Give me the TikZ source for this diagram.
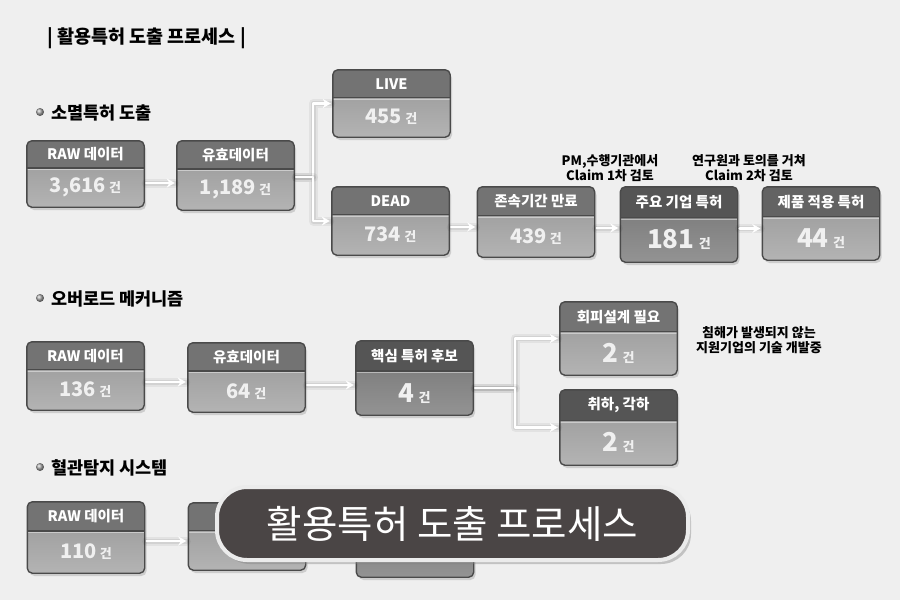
\documentclass[tikz,border=0pt]{standalone}
\usepackage{fontspec}
\setmainfont{Noto Sans CJK KR}
\usetikzlibrary{calc,shadows,arrows.meta}
\definecolor{bgc}{HTML}{EFEFEF}
\definecolor{edge}{HTML}{4A4A4A}
\definecolor{hdr}{HTML}{737373}
\definecolor{hdrmid}{HTML}{636363}
\definecolor{hdrdk}{HTML}{555555}
\definecolor{bod}{HTML}{A6A6A6}
\definecolor{boddk}{HTML}{808080}
\definecolor{banfill}{HTML}{4A4545}

% box with header band: name, x, y, height, header colour, body colour
\newcommand{\patbox}[6]{%
  \pgfmathsetmacro\hdh{0.41*#4}
  \node[pbox, minimum height=#4 pt, top color=#6!90!black, bottom color=#6!85!white] (#1) at (#2,#3) {};
  \begin{scope}
    \clip[rounded corners=5pt] (#1.north west) rectangle (#1.south east);
    \fill[#5] (#1.north west) rectangle ([yshift=-\hdh pt]#1.north east);
    \draw[white, opacity=0.45, line width=1pt] ([yshift=-\hdh pt-1.8pt]#1.north west) -- ([yshift=-\hdh pt-1.8pt]#1.north east);
    \draw[edge, line width=1.3pt] ([yshift=-\hdh pt]#1.north west) -- ([yshift=-\hdh pt]#1.north east);
  \end{scope}
  \draw[edge, line width=1.4pt, rounded corners=5pt] (#1.north west) rectangle (#1.south east);
}

\begin{document}
\begin{tikzpicture}[x=1pt, y=-1pt, >={Stealth[length=8pt,width=9pt]}, line join=round, line cap=round,
  pbox/.style={rectangle, rounded corners=5pt, minimum width=117pt, inner sep=0pt,
    drop shadow={shadow xshift=2pt, shadow yshift=-3pt, opacity=0.3}},
  hdtext/.style={text=white, font=\bfseries\fontsize{14.5}{16}\selectfont},
  flow/.style={->, draw=white, line width=2.4pt, shorten <=2pt, shorten >=2pt,
    preaction={draw=black, -, opacity=0.05, line width=9pt},
    preaction={draw=black, -, opacity=0.07, line width=5pt}},
  sect/.style={anchor=west, inner sep=0pt, font=\bfseries\fontsize{17.5}{19}\selectfont},
  note/.style={align=center, inner sep=0pt, font=\bfseries\fontsize{13}{15}\selectfont},
  banner/.style={rectangle, rounded corners=30pt, fill=banfill, draw=white!92!black, line width=4pt,
    minimum width=471pt, minimum height=73pt, text=white, font=\fontsize{38.5}{40}\selectfont,
    drop shadow={shadow xshift=3pt, shadow yshift=-4pt, opacity=0.4}}]
	\useasboundingbox (0,0) rectangle (900,600);
	\fill[bgc] (0,0) rectangle (900,600);
	% titles
	\node[sect, font=\bfseries\fontsize{18.5}{20}\selectfont] (title) at (47,38) {| 활용특허 도출 프로세스 |};
	\foreach \nm/\py/\lb in {s1/112/소멸특허 도출, s2/298/오버로드 메커니즘, s3/467/혈관탐지 시스템}{
		\shade[ball color=gray!70] (40,\py) circle (4pt);
		\node[sect] (\nm) at (51,\py+1) {\lb};
	}
	% boxes
	\foreach \nm/\px/\py/\bh/\hc/\bc/\vsz/\hd/\val in {
		raw1/85.5/174/66/hdr/bod/20/{RAW 데이터}/{3,616},
		valid1/235.5/175.5/69/hdr/bod/20/유효데이터/{1,189},
		live/391.5/103.5/67/hdr/bod/20/LIVE/455,
		dead/390.5/221/68/hdr/bod/20/DEAD/734,
		expire/536/222/70/hdr/bod/20/{존속기간 만료}/439,
		major/679/224.5/75/hdrdk/boddk/26/{주요 기업 특허}/181,
		product/821/223.5/73/hdrmid/bod/26/{제품 적용 특허}/44,
		raw2/85.5/376/68/hdr/bod/20/{RAW 데이터}/136,
		valid2/246.5/377.5/69/hdr/bod/20/유효데이터/64,
		core/414.5/378/74/hdrdk/boddk/26/{핵심 특허 후보}/4,
		avoid/618.5/338.5/73/hdr/bod/26/{회피설계 필요}/2,
		drop/618.5/427.5/75/hdrdk/bod/26/{취하, 각하}/2,
		raw3/86/537.5/71/hdr/bod/20/{RAW 데이터}/110}{
		\patbox{\nm}{\px}{\py}{\bh}{\hc}{\bc}
		\node[hdtext] (\nm-t) at (\px,\py-\bh/2+\hdh/2) {\hd};
		\node[text=white!94!black, font=\bfseries\fontsize{\vsz}{\vsz}\selectfont] (\nm-v) at (\px,\py+\hdh/2)
			{\val\,{\fontsize{13}{13}\selectfont 건}};
	}
	\patbox{valid3}{247}{536.5}{67}{hdr}{bod}
	\patbox{core3}{415}{540}{74}{hdrdk}{boddk}
	% connectors
	\draw[flow] ($(raw1.east)+(0,9)$) coordinate (c1) -- (c1 -| valid1.west);
	\draw[flow] ($(valid1.east)+(0,1.5)$) -- ++(19,0) |- (live.west);
	\draw[flow] ($(valid1.east)+(0,1.5)$) -- ++(19,0) |- (dead.west);
	\draw[flow] ($(dead.east)+(0,6)$) coordinate (c2) -- (c2 -| expire.west);
	\draw[flow] ($(expire.east)+(0,6)$) coordinate (c3) -- (c3 -| major.west);
	\draw[flow] ($(major.east)+(0,4)$) coordinate (c4) -- (c4 -| product.west);
	\draw[flow] ($(raw2.east)+(0,6)$) coordinate (c5) -- (c5 -| valid2.west);
	\draw[flow] ($(valid2.east)+(0,7.5)$) coordinate (c6) -- (c6 -| core.west);
	\draw[flow] ($(core.east)+(0,10)$) -- ++(42,0) |- (avoid.west);
	\draw[flow] ($(core.east)+(0,10)$) -- ++(42,0) |- (drop.west);
	\draw[flow] ($(raw3.east)+(0,3.5)$) coordinate (c7) -- (c7 -| valid3.west);
	% notes
	\node[note] (n1) at (610,168) {PM,수행기관에서\\Claim 1차 검토};
	\node[note] (n2) at (749,168) {연구원과 토의를 거쳐\\Claim 2차 검토};
	\node[note] (n3) at (759,340) {침해가 발생되지 않는\\지원기업의 기술 개발중};
	% banner
	\node[banner] (ban) at (452.5,523.5) {활용특허 도출 프로세스};
\end{tikzpicture}
\end{document}
